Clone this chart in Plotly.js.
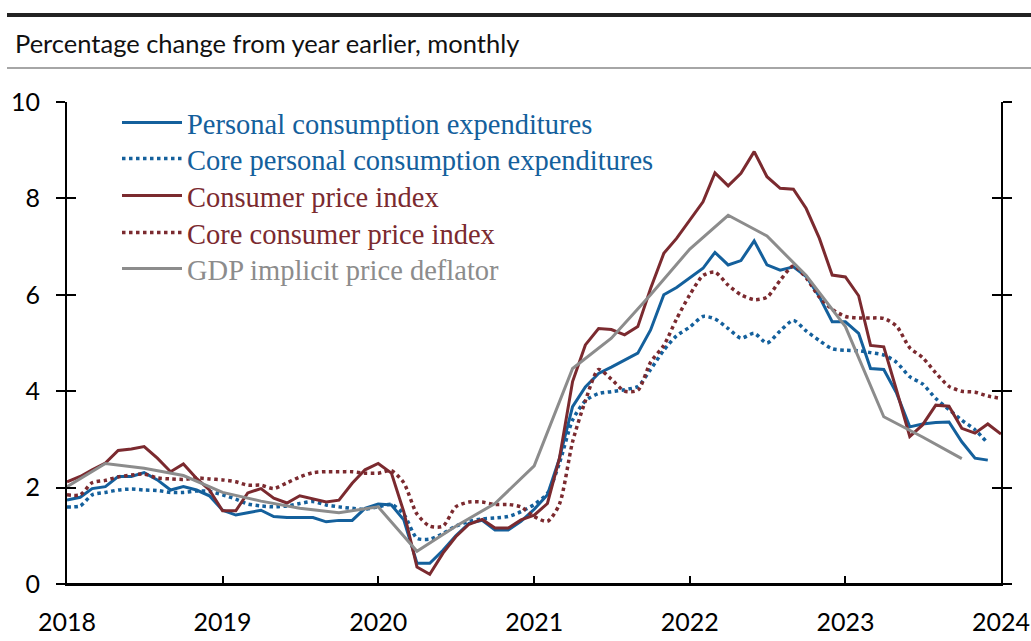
<!DOCTYPE html>
<html><head><meta charset="utf-8">
<script src="https://cdn.plot.ly/plotly-3.0.1.min.js"></script>
<style>html,body{margin:0;padding:0;background:#fff}#chart{width:1031px;height:641px}</style>
</head><body><div id="chart"></div>
<script>
// Monthly series, Jan 2018 onward
const pce = [
  1.74,1.80,1.98,2.02,2.23,2.23,2.31,2.16,1.95,2.02,1.95,1.83,
  1.53,1.43,1.48,1.53,1.40,1.38,1.38,1.38,1.29,1.32,1.32,1.57,
  1.66,1.64,1.33,0.43,0.43,0.70,1.00,1.26,1.32,1.12,1.12,1.30,
  1.55,1.85,2.60,3.68,4.09,4.37,4.50,4.65,4.79,5.27,6.00,6.15,
  6.35,6.55,6.88,6.62,6.71,7.12,6.62,6.51,6.58,6.38,5.96,5.44,
  5.44,5.20,4.47,4.45,3.96,3.26,3.32,3.35,3.36,2.95,2.61,2.57];
const corePce = [
  1.60,1.62,1.85,1.90,1.95,1.97,1.95,1.94,1.90,1.90,1.93,1.92,
  1.85,1.76,1.66,1.62,1.60,1.62,1.67,1.71,1.64,1.60,1.57,1.55,
  1.60,1.65,1.45,0.95,0.93,1.05,1.20,1.30,1.35,1.37,1.40,1.50,
  1.65,1.88,2.50,3.40,3.80,3.95,3.99,4.03,4.10,4.45,4.85,5.15,
  5.33,5.55,5.50,5.30,5.10,5.20,5.00,5.25,5.47,5.25,5.05,4.88,
  4.85,4.84,4.80,4.75,4.60,4.30,4.15,3.85,3.62,3.40,3.20,2.92];
const cpi = [
  2.12,2.23,2.37,2.51,2.77,2.80,2.85,2.61,2.33,2.49,2.19,1.95,
  1.52,1.52,1.89,1.98,1.78,1.68,1.83,1.76,1.70,1.74,2.09,2.37,
  2.50,2.30,1.50,0.35,0.20,0.64,0.98,1.24,1.34,1.16,1.16,1.33,
  1.43,1.67,2.60,4.20,4.96,5.30,5.28,5.17,5.34,6.13,6.86,7.17,
  7.55,7.93,8.53,8.26,8.52,8.97,8.45,8.21,8.19,7.79,7.17,6.41,
  6.37,5.98,4.95,4.92,4.02,3.06,3.30,3.71,3.69,3.23,3.13,3.32,
  3.11];
const coreCpi = [
  1.85,1.85,2.10,2.15,2.22,2.26,2.28,2.20,2.18,2.17,2.20,2.18,
  2.16,2.12,2.05,2.05,1.98,2.10,2.22,2.31,2.33,2.33,2.33,2.30,
  2.30,2.35,2.10,1.45,1.20,1.20,1.60,1.70,1.70,1.65,1.65,1.60,
  1.40,1.30,1.65,2.95,3.80,4.45,4.25,4.00,4.02,4.60,4.95,5.50,
  6.00,6.40,6.47,6.20,6.00,5.90,5.95,6.30,6.60,6.35,5.95,5.70,
  5.55,5.52,5.52,5.51,5.35,4.90,4.70,4.38,4.10,4.00,3.98,3.90,
  3.85];
// Quarterly GDP deflator, plotted at first month of each quarter
const gdpDates = ['2018-01-01','2018-04-01','2018-07-01','2018-10-01',
  '2019-01-01','2019-04-01','2019-07-01','2019-10-01',
  '2020-01-01','2020-04-01','2020-07-01','2020-10-01',
  '2021-01-01','2021-04-01','2021-07-01','2021-10-01',
  '2022-01-01','2022-04-01','2022-07-01','2022-10-01',
  '2023-01-01','2023-04-01','2023-07-01','2023-10-01'];
const gdp = [2.02,2.50,2.40,2.25, 1.90,1.72,1.57,1.48, 1.60,0.68,1.20,1.67,
  2.45,4.47,5.10,6.00, 6.95,7.65,7.22,6.40, 5.34,3.47,3.05,2.60];
const seriesNames = ['Personal consumption expenditures','Core personal consumption expenditures',
  'Consumer price index','Core consumer price index','GDP implicit price deflator'];
const yearTicks = ['2018','2019','2020','2021','2022','2023','2024'];
const headerText = 'Percentage change from year earlier, monthly';

function monthDates(n){
  const out=[];
  for(let i=0;i<n;i++){
    const y=2018+Math.floor(i/12), m=(i%12)+1;
    out.push(y+'-'+(m<10?'0':'')+m+'-01');
  }
  return out;
}

const BLUE='#14609c', RED='#7b2a2f', GRAY='#8c8c8c';
const PLOT_L=67, PLOT_R=1001, PLOT_T=102, PLOT_B=584, W=1031, H=641;
const pw=PLOT_R-PLOT_L, ph=PLOT_B-PLOT_T;
const px=x=>(x-PLOT_L)/pw, py=y=>(PLOT_B-y)/ph;

const traces=[
  {x:monthDates(pce.length), y:pce, name:seriesNames[0], mode:'lines', legend:'legend',
   line:{color:BLUE,width:3}},
  {x:monthDates(corePce.length), y:corePce, name:seriesNames[1], mode:'lines', legend:'legend2',
   line:{color:BLUE,width:3.5,dash:'3.5px,3.5px',shape:'spline',smoothing:0.7}},
  {x:monthDates(cpi.length), y:cpi, name:seriesNames[2], mode:'lines', legend:'legend3',
   line:{color:RED,width:3}},
  {x:monthDates(coreCpi.length), y:coreCpi, name:seriesNames[3], mode:'lines', legend:'legend4',
   line:{color:RED,width:3.5,dash:'3.5px,3.5px',shape:'spline',smoothing:0.7}},
  {x:gdpDates, y:gdp, name:seriesNames[4], mode:'lines', legend:'legend5',
   line:{color:GRAY,width:3}}
];

function lg(yc,color){
  return {x:px(117), xanchor:'left', y:py(yc), yanchor:'middle', bgcolor:'rgba(0,0,0,0)',
    borderwidth:0, itemwidth:60, font:{family:'Liberation Serif', size:28.5, color:color}};
}

const tickFont={family:'Lato', size:25, color:'#000'};
const layout={
  width:W, height:H, margin:{l:PLOT_L, r:W-PLOT_R, t:PLOT_T, b:H-PLOT_B},
  paper_bgcolor:'#fff', plot_bgcolor:'#fff', showlegend:true,
  legend:lg(123,BLUE), legend2:lg(159,BLUE), legend3:lg(196,RED), legend4:lg(233,RED), legend5:lg(269,GRAY),
  xaxis:{type:'date', range:['2018-01-01','2024-01-01'], tickmode:'array',
    tickvals:yearTicks.map(y=>y+'-01-01'), ticktext:yearTicks,
    ticks:'inside', ticklen:8, tickwidth:2, tickcolor:'#000',
    showline:true, linewidth:2, linecolor:'#000', showgrid:false, zeroline:false,
    tickfont:tickFont, ticklabelstandoff:15},
  yaxis:{range:[0,10], dtick:2, tick0:0, ticks:'outside', ticklen:9, tickwidth:2, tickcolor:'#000',
    showline:true, linewidth:2, linecolor:'#000', mirror:'ticks', showgrid:false, zeroline:false,
    tickfont:tickFont, ticklabelstandoff:11},
  yaxis2:{range:[0,10], dtick:2, tick0:0, overlaying:'y', side:'left', ticks:'inside', ticklen:9, tickwidth:2,
    tickcolor:'#000', showline:true, linewidth:2, linecolor:'#000', mirror:'ticks', showgrid:false,
    zeroline:false, showticklabels:false},
  shapes:[
    {type:'line', xref:'paper', yref:'paper', x0:px(7), x1:px(W), y0:py(15), y1:py(15), line:{color:'#222',width:4}},
    {type:'line', xref:'paper', yref:'paper', x0:px(7), x1:px(W), y0:py(68), y1:py(68), line:{color:'#a6a6a6',width:2}},
    {type:'line', xref:'paper', yref:'paper', x0:px(58), x1:px(1012), y0:0, y1:0, line:{color:'#000',width:2}}
  ],
  annotations:[
    {text:headerText, xref:'paper', yref:'paper', x:px(13), y:py(43), xanchor:'left', yanchor:'middle',
     showarrow:false, font:{family:'Lato', size:25.5, color:'#111'}}
  ]
};
// invisible helper trace so the secondary (tick-crossing) axis renders
traces.push({x:['2018-01-01'], y:[0], yaxis:'y2', mode:'lines', showlegend:false, hoverinfo:'skip',
  line:{color:'rgba(0,0,0,0)'}});

Plotly.newPlot('chart', traces, layout, {displayModeBar:false, staticPlot:true});
</script>
</body></html>
